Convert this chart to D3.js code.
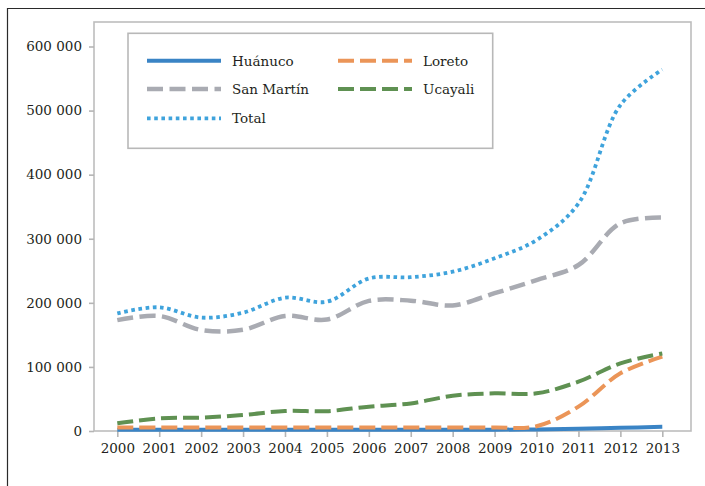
<!DOCTYPE html>
<html>
<head>
<meta charset="utf-8">
<script src="https://cdn.jsdelivr.net/npm/d3@7"></script>
<style>
  html, body { margin: 0; padding: 0; background: #fff; }
  svg { display: block; }
  text { font-family: "DejaVu Serif", "Liberation Serif", serif; fill: #231f20; }
</style>
</head>
<body>
<svg id="chart" width="705" height="486"></svg>
<script>
const years = [2000,2001,2002,2003,2004,2005,2006,2007,2008,2009,2010,2011,2012,2013];
const huanuco  = [2000,2000,2000,2000,2000,2000,2000,2000,2000,2000,2500,3500,5000,6500];
const loreto   = [5500,5500,5500,5500,5500,5500,5500,5500,5500,5500,7500,38000,90000,116000];
const sanMartin= [173000,179500,157600,158000,179500,174000,203000,203400,196000,215000,235600,259000,324000,333000];
const ucayali  = [12000,19800,20800,25000,31200,31000,38000,43000,55000,58800,58800,77000,105600,121000];
const total    = [183700,193000,177000,184600,208000,201800,238000,240000,248600,269500,298000,355000,508700,564000];
const yTicks = [0,100000,200000,300000,400000,500000,600000];
const seriesNames = ["Huánuco","Loreto","San Martín","Ucayali","Total"];

const styles = {
  "Huánuco":   {color:"#3a84c5", width:4,   dash:null},
  "Loreto":    {color:"#eb9558", width:4,   dash:"16,6"},
  "San Martín":{color:"#a9abb2", width:4.5, dash:"16,6.5"},
  "Ucayali":   {color:"#5f9152", width:4,   dash:"16,6"},
  "Total":     {color:"#3fa3dc", width:3.8, dash:"3.6,3.6"}
};
const seriesData = {"Huánuco":huanuco,"Loreto":loreto,"San Martín":sanMartin,"Ucayali":ucayali,"Total":total};

const FONT = "'DejaVu Serif', 'Liberation Serif', serif";
const FS = 13.5;
const svg = d3.select("#chart");
const fmt = v => v === 0 ? "0" : d3.format(",")(v).replace(/,/g, " ");

// outer frame (top and left edges)
svg.append("path").attr("d","M7.5,486 V8.5 H705").attr("fill","none").attr("stroke","#2a2a2a").attr("stroke-width",1.2);

const x = d3.scaleLinear().domain([2000,2013]).range([117.3,662.3]);
const y = d3.scaleLinear().domain([0,600000]).range([431,46.5]);

// plot box
const boxL = 94, boxR = 691, boxT = 22, boxB = 431;
svg.append("rect").attr("x",boxL).attr("y",boxT).attr("width",boxR-boxL).attr("height",boxB-boxT)
  .attr("fill","none").attr("stroke","#bdbdbd").attr("stroke-width",1.6);

// y axis
const yAxis = d3.axisLeft(y).tickValues(yTicks).tickSize(5).tickPadding(7).tickFormat(fmt);
const gy = svg.append("g").attr("transform",`translate(${boxL},0)`).call(yAxis);
gy.attr("font-family", FONT).attr("font-size", FS);
gy.select(".domain").remove();
gy.selectAll(".tick line").attr("stroke","#b5b5b5").attr("stroke-width",1.6);
gy.selectAll(".tick text").attr("fill","#231f20");

// x axis
const xAxis = d3.axisBottom(x).tickValues(years).tickSize(6).tickPadding(6).tickFormat(d3.format("d"));
const gx = svg.append("g").attr("transform",`translate(0,${boxB})`).call(xAxis);
gx.attr("font-family", FONT).attr("font-size", FS);
gx.select(".domain").remove();
gx.selectAll(".tick line").attr("stroke","#b5b5b5").attr("stroke-width",1.6);
gx.selectAll(".tick text").attr("fill","#231f20");

// lines
const line = d3.line().x((d,i)=>x(years[i])).y(d=>y(d)).curve(d3.curveCatmullRom.alpha(0.5));
seriesNames.forEach(name => {
  const s = styles[name];
  svg.append("path").datum(seriesData[name])
    .attr("d", line).attr("fill","none")
    .attr("stroke", s.color).attr("stroke-width", s.width)
    .attr("stroke-dasharray", s.dash).attr("stroke-linejoin","round");
});

// legend
svg.append("rect").attr("x",128).attr("y",33.3).attr("width",364.7).attr("height",115)
  .attr("fill","#fff").attr("stroke","#b8b8b8").attr("stroke-width",1.6);
const legendPos = [
  {name:"Huánuco", lx:147, ty:60.7},
  {name:"Loreto", lx:338, ty:60.7},
  {name:"San Martín", lx:147, ty:89},
  {name:"Ucayali", lx:338, ty:89},
  {name:"Total", lx:147, ty:118.3}
];
legendPos.forEach(p => {
  const s = styles[p.name];
  svg.append("line").attr("x1",p.lx).attr("x2",p.lx+74).attr("y1",p.ty).attr("y2",p.ty)
    .attr("stroke",s.color).attr("stroke-width",s.width).attr("stroke-dasharray",s.dash);
  svg.append("text").attr("x",p.lx+85).attr("y",p.ty+5).attr("font-size",FS)
    .attr("font-family",FONT).text(p.name);
});
</script>
</body>
</html>
